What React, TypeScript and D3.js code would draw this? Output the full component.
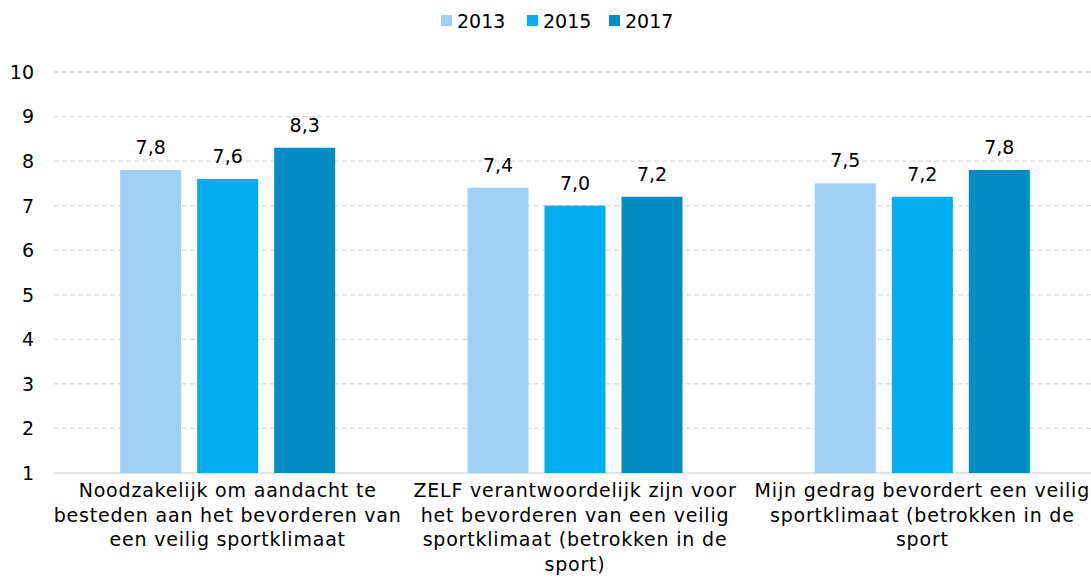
import * as d3 from "d3";
import { useEffect, useRef } from "react";

const categories = [
  ["Noodzakelijk om aandacht te", "besteden aan het bevorderen van", "een veilig sportklimaat"],
  ["ZELF verantwoordelijk zijn voor", "het bevorderen van een veilig", "sportklimaat (betrokken in de", "sport)"],
  ["Mijn gedrag bevordert een veilig", "sportklimaat (betrokken in de", "sport"],
];
const years = ["2013", "2015", "2017"];
const v2013 = [7.8, 7.4, 7.5];
const v2015 = [7.6, 7.0, 7.2];
const v2017 = [8.3, 7.2, 7.8];
const colors = ["#9fcff3", "#00adee", "#008cc5"];
const yTicks = [1, 2, 3, 4, 5, 6, 7, 8, 9, 10];

const W = 1091, H = 583;
const FONT = "'DejaVu Sans', sans-serif";
const FS = 19;

const App = () => {
  const ref = useRef<SVGSVGElement>(null);

  useEffect(() => {
    const svg = d3.select(ref.current);
    svg.selectAll("*").remove();

    const margin = { top: 72, right: -5, bottom: 110, left: 54 };
    const x0 = d3.scaleBand().domain(["0", "1", "2"]).range([margin.left, W - margin.right]).paddingInner(0).paddingOuter(0);
    const x1 = d3.scaleBand().domain(years).range([-107.5, 107.5]).paddingInner(0.208).paddingOuter(0);
    const y = d3.scaleLinear().domain([1, 10]).range([H - margin.bottom, margin.top]);

    // gridlines
    svg.append("g").selectAll("line").data(yTicks.filter(t => t > 1)).enter().append("line")
      .attr("x1", margin.left).attr("x2", W)
      .attr("y1", d => y(d)).attr("y2", d => y(d))
      .attr("stroke", "#d9d9d9").attr("stroke-width", 1.3).attr("stroke-dasharray", "5,3");
    svg.append("line").attr("x1", margin.left).attr("x2", W)
      .attr("y1", y(1)).attr("y2", y(1)).attr("stroke", "#d9d9d9").attr("stroke-width", 1.5);

    // y tick labels
    svg.append("g").selectAll("text").data(yTicks).enter().append("text")
      .attr("x", 34).attr("y", d => y(d)).attr("dy", "0.36em")
      .attr("text-anchor", "end").attr("font-family", FONT).attr("font-size", FS)
      .attr("fill", "#000").text(d => d);

    const series = [v2013, v2015, v2017];
    const groups = svg.append("g").selectAll("g").data(categories).enter().append("g")
      .attr("transform", (_, i) => `translate(${x0(String(i))! + x0.bandwidth() / 2},0)`);

    groups.each(function (_, ci) {
      const g = d3.select(this);
      years.forEach((yr, si) => {
        const v = series[si][ci];
        g.append("rect")
          .attr("x", x1(yr)!).attr("width", x1.bandwidth())
          .attr("y", y(v)).attr("height", y(1) - y(v))
          .attr("fill", colors[si]);
        g.append("text")
          .attr("x", x1(yr)! + x1.bandwidth() / 2).attr("y", y(v) - 16)
          .attr("text-anchor", "middle").attr("font-family", FONT).attr("font-size", FS)
          .text(d3.format(".1f")(v).replace(".", ","));
      });
    });

    // category labels
    groups.each(function (lines) {
      const t = d3.select(this).append("text")
        .attr("text-anchor", "middle").attr("font-family", FONT).attr("font-size", FS)
        .attr("letter-spacing", 0.8);
      (lines as string[]).forEach((l, i) => {
        t.append("tspan").attr("x", 0).attr("y", 497 + i * 24.5).text(l);
      });
    });

    // legend
    const legX = [441, 527, 609];
    const leg = svg.append("g").selectAll("g").data(years).enter().append("g")
      .attr("transform", (_, i) => `translate(${legX[i]},0)`);
    leg.append("rect").attr("x", 0).attr("y", 15).attr("width", 11).attr("height", 11)
      .attr("fill", (_, i) => colors[i]);
    leg.append("text").attr("x", 16).attr("y", 21).attr("dy", "0.36em")
      .attr("font-family", FONT).attr("font-size", FS).text(d => d);
  }, []);

  return (
    <svg ref={ref} width={W} height={H} style={{ position: "absolute", left: 0, top: 0, background: "#fff" }} />
  );
};

export default App;
